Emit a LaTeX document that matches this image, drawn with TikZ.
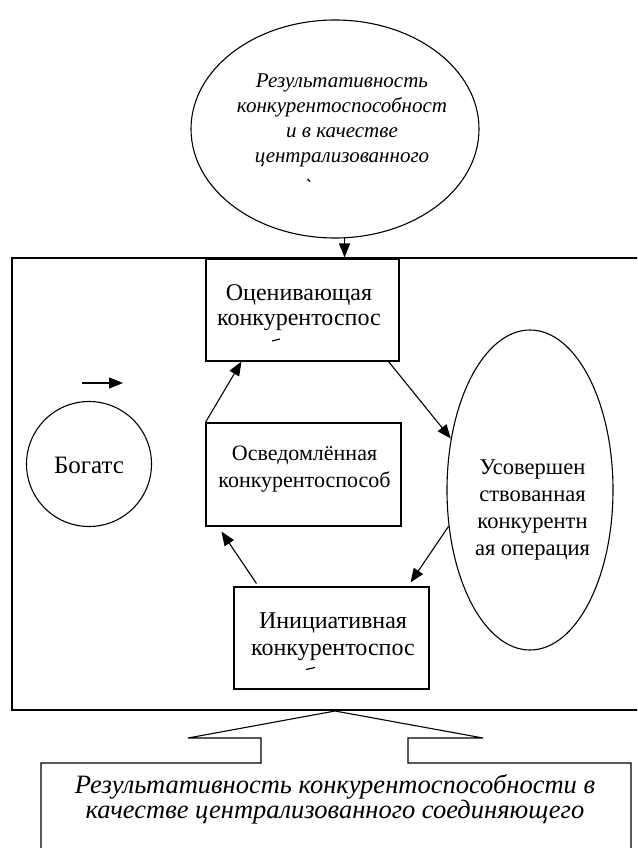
\documentclass[tikz,border=0pt]{standalone}
\usepackage{fontspec}
\setmainfont{Liberation Serif}
\usetikzlibrary{arrows.meta,shapes.geometric}
\begin{document}
\begin{tikzpicture}[x=1pt,y=-1pt,
  line width=1.1pt,
  arr/.style={-{Triangle[length=14pt,width=11pt]}},
  box/.style={draw, rectangle, inner sep=0pt},
  oval/.style={draw, ellipse, inner sep=0pt},
  txt/.style={align=center, inner sep=0pt, font=\fontsize{22}{27}\selectfont},
  btxt/.style={align=center, inner sep=0pt, font=\fontsize{24}{25}\selectfont},
  itxt/.style={align=center, inner sep=0pt, font=\fontsize{21}{25}\selectfont\itshape},
  frag/.style={line width=1.2pt},
]
\useasboundingbox (0,0) rectangle (637,848);
\clip (0,0) rectangle (637,848);
% shapes
\node[oval, minimum width=288pt, minimum height=218pt] (topell) at (335,129) {};
\node[box, minimum width=650pt, minimum height=452pt] (outer) at (337,484) {};
\node[box, fill=white, minimum width=193pt, minimum height=102pt] (ocen) at (302.5,310) {};
\node[box, minimum width=195pt, minimum height=103pt] (osv) at (303.5,474.5) {};
\node[box, minimum width=195pt, minimum height=102pt] (init) at (331.5,638) {};
\node[oval, minimum width=166pt, minimum height=320pt] (usov) at (530,490) {};
\node[draw, circle, inner sep=0pt, minimum size=125pt] (bog) at (89,464) {};
% texts
\node[itxt] (topT) at (342,120) {Результативность\\конкурентоспособност\\и в качестве\\централизованного};
\node[btxt] (ocenT) at (299,308) {Оценивающая\\конкурентоспос};
\node[txt] (osvT) at (304.5,469) {Осведомлённая\\конкурентоспособ};
\node[btxt, font=\fontsize{24}{27}\selectfont] (initT) at (333,637) {Инициативная\\конкурентоспос};
\node[txt, font=\fontsize{22.5}{27}\selectfont] (usovT) at (532.5,510) {Усовершен\\ствованная\\конкурентн\\ая операция};
\node[txt, font=\fontsize{25}{27}\selectfont] (bogT) at (89,465) {Богатс};
% text fragments (clipped lines)
\draw[frag] (307.5,179) -- (310,181.5);
\draw[frag] (272,341) -- (280,339);
\draw[frag] (306,669.5) -- (315,667.5);
% hollow arrow + bottom box
\coordinate (hb1) at (41,860);
\coordinate (hb2) at (631,860);
\draw (hb1) -- (41,763) -- (261,763) -- (261,738) -- (188,738) -- (335,711)
  -- (483,738) -- (408,738) -- (408,763) -- (631,763) -- (hb2);
\node[itxt, font=\fontsize{26.5}{25}\selectfont\itshape] (botT) at (335,799)
  {Результативность конкурентоспособности в\\качестве централизованного соединяющего};
% connectors
\draw[arr] (topell.-85) -- (topell.-85 |- outer.north);
\draw[arr] (osv.north west) -- ([xshift=36pt]ocen.south west);
\draw[arr] ([xshift=-11pt]ocen.south east) -- (usov.147);
\draw[arr] (usov.204) -- ([xshift=-19pt, yshift=4pt]init.north east);
\draw[arr] ([xshift=23pt, yshift=3pt]init.north west) -- ([xshift=16pt, yshift=-5pt]osv.south west);
\coordinate (sa1) at (82,383);
\coordinate (sa2) at (123,383);
\draw[arr] (sa1) -- (sa2);
\end{tikzpicture}
\end{document}
